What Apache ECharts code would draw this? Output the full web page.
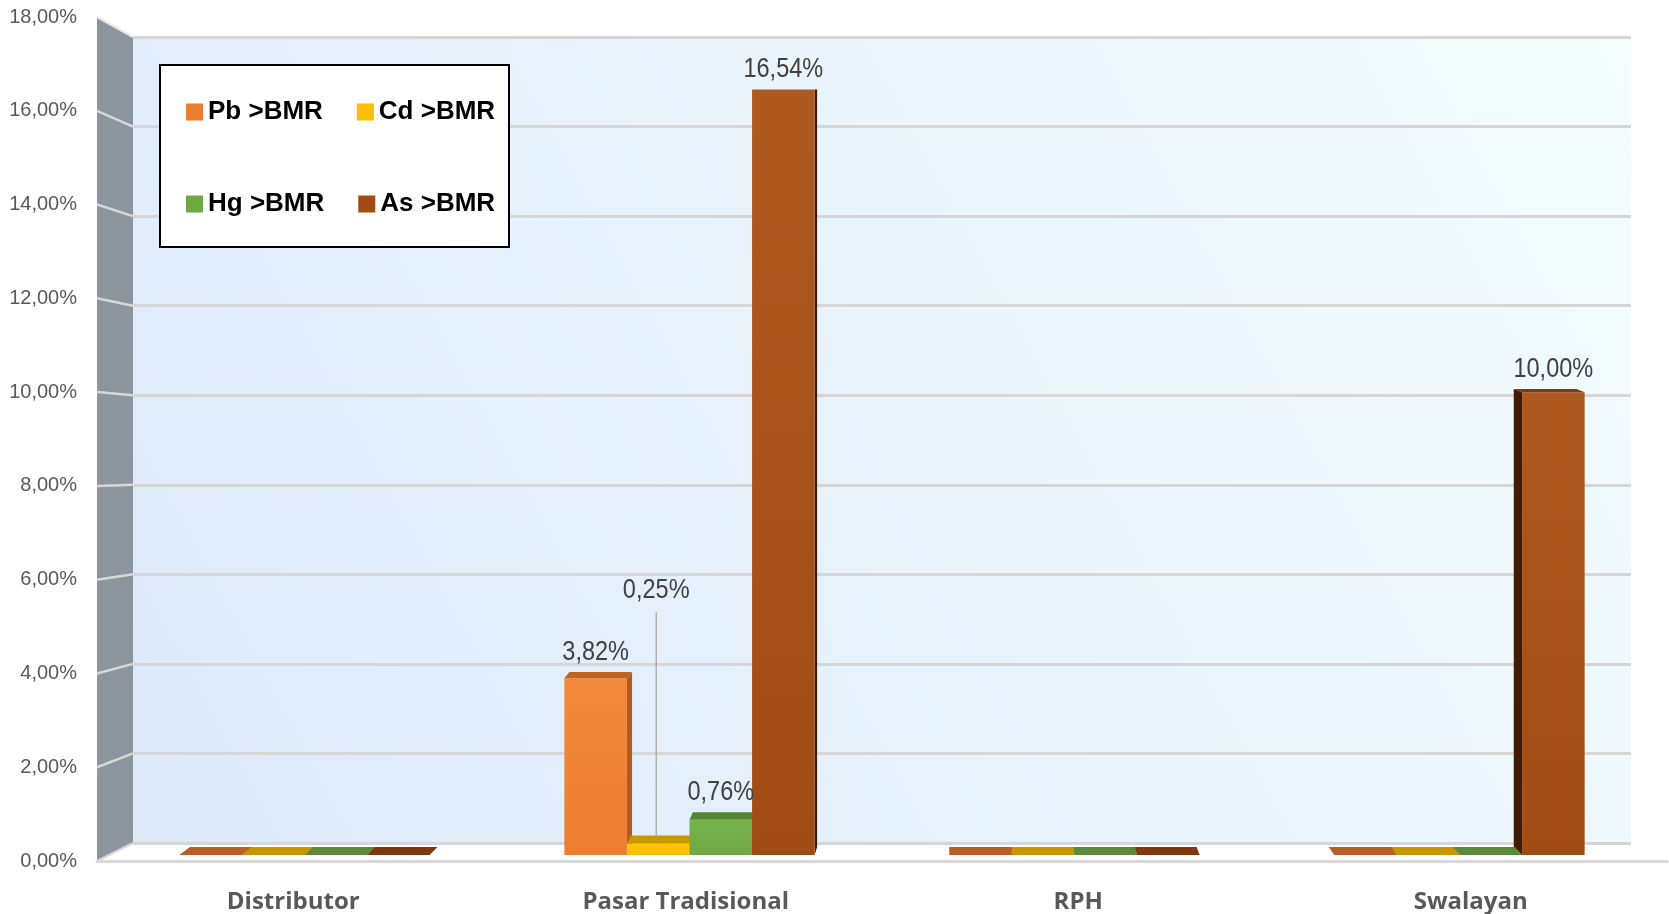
<!DOCTYPE html>
<html>
<head>
<meta charset="utf-8">
<script src="https://cdn.jsdelivr.net/npm/echarts@6/dist/echarts.min.js"></script>
<style>
  html, body { margin: 0; padding: 0; background: #fff; }
  #chart { width: 1669px; height: 914px; }
</style>
</head>
<body>
<div id="chart"></div>
<script>
// Datos de la gráfica (porcentaje de muestras > BMR)
var categorias = ["Distributor", "Pasar Tradisional", "RPH", "Swalayan"];
var seriesNombres = ["Pb >BMR", "Cd >BMR", "Hg >BMR", "As >BMR"];
var valoresPb = [0, 3.82, 0, 0];
var valoresCd = [0, 0.25, 0, 0];
var valoresHg = [0, 0.76, 0, 0];
var valoresAs = [0, 16.54, 0, 10.0];
var ejeMin = 0, ejeMax = 18, ejeIntervalo = 2;

// Colores: cara frontal, cara superior, lateral y losa (valor 0)
var colores = [
  { frente: ["#f3893b", "#ec7c30"], cima: "#c2631f", lado: "#b65a1c", losa: "#b95f25" },
  { frente: ["#ffc410", "#ffbf00"], cima: "#c79a00", lado: "#b88c00", losa: "#c79600" },
  { frente: ["#76b24b", "#6ea944"], cima: "#558636", lado: "#4e7c31", losa: "#5a8a3a" },
  { frente: ["#ad5920", "#a14c15"], cima: "#7f3a0f", lado: "#3d1d08", losa: "#7f370d" }
];
var listasValores = [valoresPb, valoresCd, valoresHg, valoresAs];

// Ajustes del efecto 3D
var ANCHO_GRUPO = 0.65;
var VX = 960, KX = 0.014, PROF = 8, NIVEL_OJO = 16.5;
var NIVEL_ETIQUETA_CD = 5.42; // Excel dejó la etiqueta de Cd desplazada con línea guía

var fuenteNum = "'Liberation Sans', Arial, sans-serif";

function formatearPct(v) {
  return v.toFixed(2).replace(".", ",") + "%";
}

function crearRender(s) {
  return function (params, api) {
    var cat = api.value(0);
    var val = api.value(1);
    var base = api.coord([cat, 0]);
    var cima = api.coord([cat, val]);
    var anchoBanda = api.size([1, 0])[0];
    var anchoGrupo = anchoBanda * ANCHO_GRUPO;
    var anchoBarra = anchoGrupo / seriesNombres.length;
    var x0 = base[0] - anchoGrupo / 2 + s * anchoBarra;
    var x1 = x0 + anchoBarra;
    var xc = (x0 + x1) / 2;
    var yB = base[1], yT = cima[1];
    var yOjo = api.coord([cat, NIVEL_OJO])[1];
    var dy = Math.max(0, PROF * (yT - yOjo) / (yB - yOjo));
    var dx = KX * (VX - xc);
    var col = colores[s];
    var orden = 1000 - Math.abs(xc - VX) / 2;
    var hijos = [];

    if (val > 0) {
      var xs = dx > 0 ? x1 : x0;
      hijos.push({
        type: "polygon", z2: orden,
        shape: { points: [[xs, yT], [xs + dx, yT - dy], [xs + dx, yB - PROF], [xs, yB]] },
        style: { fill: col.lado }
      });
      hijos.push({
        type: "rect", z2: orden + 1,
        shape: { x: x0, y: yT, width: anchoBarra, height: yB - yT },
        style: {
          fill: new echarts.graphic.LinearGradient(0, 0, 0, 1, [
            { offset: 0, color: col.frente[0] },
            { offset: 1, color: col.frente[1] }
          ])
        }
      });
      hijos.push({
        type: "polygon", z2: orden + 1,
        shape: { points: [[x0, yT], [x1, yT], [x1 + dx, yT - dy], [x0 + dx, yT - dy]] },
        style: { fill: col.cima }
      });
      // etiqueta de datos
      var yEtiqueta = yT - dy - 6;
      if (s === 1) {
        var yElev = api.coord([cat, NIVEL_ETIQUETA_CD])[1];
        hijos.push({
          type: "line", z2: 4000,
          shape: { x1: xc - 2, y1: yElev + 8, x2: xc - 2, y2: yT - dy + 2 },
          style: { stroke: "#a6a6a6", lineWidth: 1.3 }
        });
        yEtiqueta = yElev;
        xc = xc - 2;
      }
      hijos.push({
        type: "text", z2: 5000,
        x: xc, y: yEtiqueta, scaleX: 0.84,
        style: {
          text: formatearPct(val), x: 0, y: 0,
          align: "center", verticalAlign: "bottom",
          font: "28px " + fuenteNum, fill: "#404040"
        }
      });
    } else {
      hijos.push({
        type: "polygon", z2: orden,
        shape: { points: [[x0, yB], [x1, yB], [x1 + dx, yB - PROF], [x0 + dx, yB - PROF]] },
        style: { fill: col.losa }
      });
    }
    return { type: "group", children: hijos };
  };
}

var dom = document.getElementById("chart");
var myChart = echarts.init(dom, null, { renderer: "canvas" });

var series = seriesNombres.map(function (nombre, s) {
  return {
    name: nombre,
    type: "custom",
    xAxisIndex: 1,
    yAxisIndex: 1,
    itemStyle: { color: colores[s].frente[1] },
    renderItem: crearRender(s),
    data: listasValores[s].map(function (v, i) { return [i, v]; })
  };
});

var estiloLeyenda = {
  fontFamily: fuenteNum, fontWeight: "bold", fontSize: 26, color: "#000"
};

var option = {
  animation: false,
  legend: [
    {
      data: ["Pb >BMR", "Cd >BMR"], left: 181, top: 94, itemGap: 34,
      itemWidth: 17, itemHeight: 17, icon: "rect", selectedMode: false,
      textStyle: estiloLeyenda, z: 6
    },
    {
      data: ["Hg >BMR", "As >BMR"], left: 181, top: 186, itemGap: 34,
      itemWidth: 17, itemHeight: 17, icon: "rect", selectedMode: false,
      textStyle: estiloLeyenda, z: 6
    }
  ],
  grid: [
    // pared del fondo
    {
      left: 133, right: 38, top: 37, bottom: 71, show: true, borderWidth: 0,
      backgroundColor: new echarts.graphic.LinearGradient(0, 1, 1, 0, [
        { offset: 0, color: "#dce9f9" },
        { offset: 1, color: "#f4fdff" }
      ])
    },
    // plano de las barras
    { left: 112, right: 17, top: 22, bottom: 59 },
    // plano frontal (etiquetas)
    { left: 97, right: 2, top: 17, bottom: 53 }
  ],
  xAxis: [
    { gridIndex: 0, type: "value", min: 0, max: 1, show: false },
    { gridIndex: 1, type: "category", data: categorias, show: false },
    {
      gridIndex: 2, type: "category", data: categorias,
      axisLine: { show: true, lineStyle: { color: "#d9d9d9", width: 3 } },
      axisTick: { show: false },
      axisLabel: {
        margin: 29, color: "#595959", fontSize: 24, fontWeight: "bold",
        fontFamily: "'Open Sans', 'Noto Sans', sans-serif"
      }
    },
    { gridIndex: 2, type: "value", min: 0, max: 1, show: false, position: "top" }
  ],
  yAxis: [
    {
      gridIndex: 0, type: "value", min: ejeMin, max: ejeMax, interval: ejeIntervalo,
      axisLine: { show: false }, axisTick: { show: false }, axisLabel: { show: false },
      splitLine: { show: true, lineStyle: { color: "#d6d6d6", width: 3 } }
    },
    {
      gridIndex: 1, type: "value", min: ejeMin, max: ejeMax, interval: ejeIntervalo,
      show: false, splitLine: { show: false }
    },
    {
      gridIndex: 2, type: "value", min: ejeMin, max: ejeMax, interval: ejeIntervalo,
      axisLine: { show: false }, axisTick: { show: false },
      splitLine: { show: false },
      axisLabel: {
        margin: 20, color: "#595959", fontSize: 20, fontFamily: fuenteNum,
        formatter: function (v) { return formatearPct(v); }
      }
    }
  ],
  series: series
};

myChart.setOption(option);

// Paredes laterales y suelo (decoración del efecto 3D)
function dibujarParedes() {
  var atras0 = myChart.convertToPixel({ xAxisIndex: 0, yAxisIndex: 0 }, [0, ejeMin]);
  var atras1 = myChart.convertToPixel({ xAxisIndex: 0, yAxisIndex: 0 }, [1, ejeMax]);
  var frente0 = myChart.convertToPixel({ xAxisIndex: 3, yAxisIndex: 2 }, [0, ejeMin]);
  var frente1 = myChart.convertToPixel({ xAxisIndex: 3, yAxisIndex: 2 }, [1, ejeMax]);
  var elementos = [];

  // suelo blanco
  elementos.push({
    type: "polygon", z: -1,
    shape: { points: [[frente0[0], frente0[1]], [atras0[0], atras0[1]], [atras1[0], atras0[1]], [frente1[0], frente0[1]]] },
    style: { fill: "#ffffff" }
  });
  // pared izquierda gris
  elementos.push({
    type: "polygon", z: 1,
    shape: { points: [[frente0[0], frente1[1]], [atras0[0], atras1[1]], [atras0[0], atras0[1]], [frente0[0], frente0[1]]] },
    style: { fill: "#8c959d" }
  });
  for (var t = ejeMin; t <= ejeMax; t += ejeIntervalo) {
    var yb = myChart.convertToPixel({ yAxisIndex: 0 }, t);
    var yf = myChart.convertToPixel({ yAxisIndex: 2 }, t);
    elementos.push({
      type: "line", z: 1,
      shape: { x1: frente0[0], y1: yf, x2: atras0[0], y2: yb },
      style: { stroke: t === ejeMax ? "#e8e8e8" : "#d4d8db", lineWidth: 2.5 }
    });
  }
  // recuadro de la leyenda
  elementos.push({
    type: "rect", z: 5,
    shape: { x: 160, y: 65, width: 349, height: 182 },
    style: { fill: "#ffffff", stroke: "#000000", lineWidth: 2 }
  });
  myChart.setOption({ graphic: { elements: elementos } });
}
dibujarParedes();

window.addEventListener("resize", myChart.resize);
</script>
</body>
</html>
